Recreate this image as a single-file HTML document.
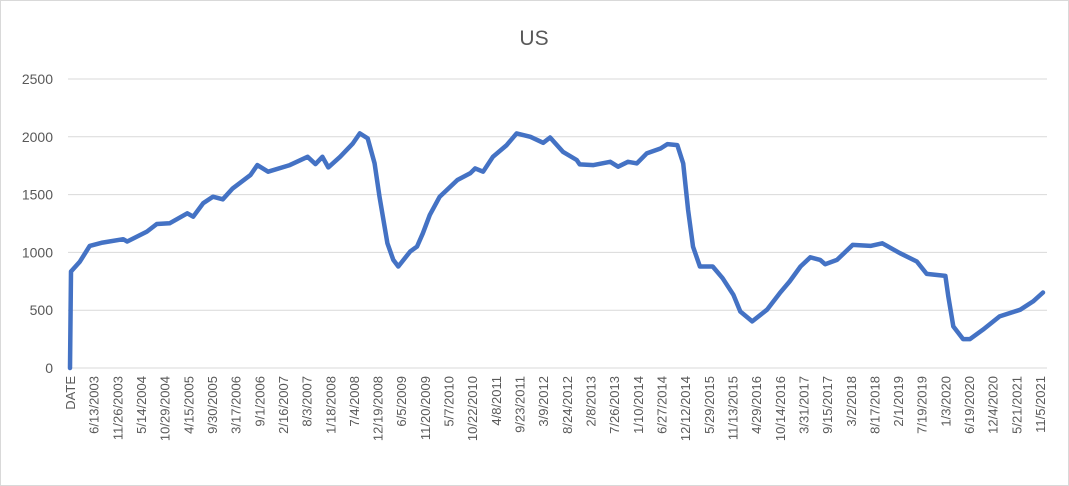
<!DOCTYPE html>
<html><head><meta charset="utf-8"><style>
html,body{margin:0;padding:0;background:#fff}
svg{display:block;font-family:"Liberation Sans",sans-serif}
</style></head><body>
<svg id="chart" width="1069" height="486">
<rect x="0.5" y="0.5" width="1068" height="485" fill="#fff" stroke="#d9d9d9"/>
<text x="534" y="45" text-anchor="middle" font-size="21" fill="#595959">US</text>
<g id="grid"></g><g id="yt"></g><g id="xt"></g><g id="ser"></g>
</svg>
<script>
const yTicks=[0,500,1000,1500,2000,2500];
const xLabels=["DATE","6/13/2003","11/26/2003","5/14/2004","10/29/2004","4/15/2005","9/30/2005","3/17/2006","9/1/2006","2/16/2007","8/3/2007","1/18/2008","7/4/2008","12/19/2008","6/5/2009","11/20/2009","5/7/2010","10/22/2010","4/8/2011","9/23/2011","3/9/2012","8/24/2012","2/8/2013","7/26/2013","1/10/2014","6/27/2014","12/12/2014","5/29/2015","11/13/2015","4/29/2016","10/14/2016","3/31/2017","9/15/2017","3/2/2018","8/17/2018","2/1/2019","7/19/2019","1/3/2020","6/19/2020","12/4/2020","5/21/2021","11/5/2021"];
const weeks=[0,1,10,20,33,54,58,78,88,101,119,125,135,145,155,165,183,190,201,223,241,249,256,262,274,287,294,302,309,314,322,328,333,345,352,358,365,375,393,406,411,419,429,443,453,467,480,487,500,514,517,531,548,556,566,575,585,599,606,616,622,627,632,639,652,662,673,680,692,707,720,730,741,751,761,766,778,794,812,824,842,859,869,888,891,896,906,913,926,943,964,977,987];
const values=[0,835,920,1056,1085,1114,1094,1180,1246,1252,1338,1309,1425,1482,1459,1554,1669,1755,1698,1755,1827,1764,1827,1735,1827,1943,2029,1986,1770,1482,1079,935,878,1007,1050,1166,1324,1482,1626,1684,1727,1698,1827,1928,2029,2000,1948,1994,1870,1799,1761,1755,1784,1741,1784,1770,1856,1899,1937,1928,1770,1367,1050,878,878,777,633,489,403,504,648,748,878,958,935,898,935,1065,1056,1079,993,921,814,797,619,360,250,250,331,446,504,576,653];
const NS='http://www.w3.org/2000/svg';
const X0=70,XW=0.9858,Y0=368,YH=289,YMAX=2500;
const xs=i=>X0+i*XW, ys=v=>Y0-v/YMAX*YH;
const g=document.getElementById('grid'),yt=document.getElementById('yt'),xt=document.getElementById('xt'),ser=document.getElementById('ser');
yTicks.forEach(t=>{
 const l=document.createElementNS(NS,'line');
 
 
 l.setAttribute('x1',68);l.setAttribute('x2',1047);l.setAttribute('y1',ys(t));l.setAttribute('y2',ys(t));
 l.setAttribute('stroke','#d9d9d9');l.setAttribute('stroke-width',1);g.appendChild(l);
 const tx=document.createElementNS(NS,'text');
 
 
 tx.setAttribute('x',53);tx.setAttribute('y',ys(t)+5);tx.setAttribute('text-anchor','end');
 tx.setAttribute('font-size','14');tx.setAttribute('fill','#595959');tx.textContent=t;yt.appendChild(tx);
});
xLabels.forEach((s,k)=>{
 const x=xs(k*24)+5;
 const tx=document.createElementNS(NS,'text');
 
 
 tx.setAttribute('transform','translate('+x+',376) rotate(-90)');
 tx.setAttribute('text-anchor','end');tx.setAttribute('font-size','13');tx.setAttribute('fill','#595959');
 tx.textContent=s;xt.appendChild(tx);
});
const p=document.createElementNS(NS,'path');


p.setAttribute('d',weeks.map((w,i)=>(i?'L':'M')+xs(w).toFixed(1)+','+ys(values[i]).toFixed(1)).join(''));
p.setAttribute('fill','none');p.setAttribute('stroke','#4472C4');p.setAttribute('stroke-width','4.5');
p.setAttribute('stroke-linejoin','round');p.setAttribute('stroke-linecap','round');
ser.appendChild(p);
</script>
</body></html>
